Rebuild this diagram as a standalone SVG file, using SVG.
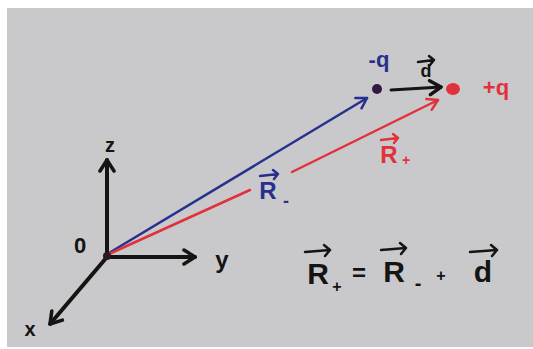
<svg xmlns="http://www.w3.org/2000/svg" width="533" height="349" viewBox="0 0 533 349">
<style>
.ax{stroke:#141414;stroke-width:4;fill:none;stroke-linecap:round}
.bl{stroke:#27308e;stroke-width:2.5;fill:none;stroke-linecap:round}
.rd{stroke:#e1323c;stroke-width:2.5;fill:none;stroke-linecap:round}
.dv{stroke:#141414;stroke-width:3;fill:none;stroke-linecap:round}
.t{font-family:"Liberation Sans",Arial,sans-serif;font-weight:bold}
.k{fill:#141414}
.b{fill:#27308e}
.r{fill:#e1323c}
.va{stroke-width:2.5;fill:none;stroke-linecap:round;stroke-linejoin:round}
</style>
<defs>
<marker id="mk" viewBox="-14 -9 16 18" refX="0" refY="0" markerWidth="16" markerHeight="18" markerUnits="userSpaceOnUse" orient="auto">
<path d="M-11,-7 L0,0 L-11,7" fill="none" stroke="#141414" stroke-width="3.5" stroke-linecap="round" stroke-linejoin="round"/>
</marker>
<marker id="mb" viewBox="-14 -9 16 18" refX="0" refY="0" markerWidth="16" markerHeight="18" markerUnits="userSpaceOnUse" orient="auto">
<path d="M-10,-6 L0,0 L-10,6" fill="none" stroke="#27308e" stroke-width="2.5" stroke-linecap="round" stroke-linejoin="round"/>
</marker>
<marker id="mr" viewBox="-14 -9 16 18" refX="0" refY="0" markerWidth="16" markerHeight="18" markerUnits="userSpaceOnUse" orient="auto">
<path d="M-10,-6 L0,0 L-10,6" fill="none" stroke="#e1323c" stroke-width="2.5" stroke-linecap="round" stroke-linejoin="round"/>
</marker>
</defs>
<rect x="0" y="0" width="533" height="349" fill="#ffffff"/>
<rect x="7" y="8" width="526" height="339" fill="#c9c9cb"/>

<g id="connectors">
<path class="ax" d="M107,257 L107,160" marker-end="url(#mk)"/>
<path class="ax" d="M107,257 L195,257" marker-end="url(#mk)"/>
<path class="ax" d="M107,257 L50,324" marker-end="url(#mk)"/>
<path class="bl" d="M109,253 L367,98" marker-end="url(#mb)"/>
<path class="rd" d="M109,254 L250,190"/>
<path class="rd" d="M292,172 L438,100" marker-end="url(#mr)"/>
<path class="dv" d="M391,90 L441,87" marker-end="url(#mk)"/>
</g>

<g id="origin">
<circle cx="107" cy="256" r="4" fill="#2a1a26"/>
<text class="t k" x="80" y="253" font-size="22" text-anchor="middle">0</text>
</g>
<g id="axis-z"><text class="t k" x="110" y="152" font-size="20" text-anchor="middle">z</text></g>
<g id="axis-y"><text class="t k" x="222" y="268" font-size="24" text-anchor="middle">y</text></g>
<g id="axis-x"><text class="t k" x="30" y="336" font-size="20" text-anchor="middle">x</text></g>

<g id="charge-minus">
<circle cx="377" cy="89" r="5" fill="#35183f"/>
<text class="t b" x="379" y="67" font-size="22" text-anchor="middle">-q</text>
</g>
<g id="charge-plus">
<ellipse cx="453" cy="89" rx="7" ry="6" fill="#e1323c"/>
<text class="t r" x="496" y="95" font-size="22" text-anchor="middle">+q</text>
</g>

<g id="label-d">
<text class="t k" x="426" y="77" font-size="18" text-anchor="middle">d</text>
<path class="va" stroke="#141414" d="M418,62 L434,60 M429,56 L434,60 L430,65"/>
</g>
<g id="label-Rminus">
<text class="t b" x="268" y="199" font-size="24" text-anchor="middle">R</text>
<text class="t b" x="286" y="207" font-size="18" text-anchor="middle">-</text>
<path class="va" stroke="#27308e" d="M260,176 L278,174 M273,170 L278,174 L274,179"/>
</g>
<g id="label-Rplus">
<text class="t r" x="389" y="163" font-size="24" text-anchor="middle">R</text>
<text class="t r" x="406" y="165" font-size="14" text-anchor="middle">+</text>
<path class="va" stroke="#e1323c" d="M381,140 L398,138 M393,134 L398,138 L394,143"/>
</g>

<g id="equation">
<text class="t k" x="318" y="284" font-size="30" text-anchor="middle">R</text>
<text class="t k" x="337" y="292" font-size="16" text-anchor="middle">+</text>
<text class="t k" x="359" y="281" font-size="24" text-anchor="middle">=</text>
<text class="t k" x="394" y="282" font-size="30" text-anchor="middle">R</text>
<text class="t k" x="418" y="290" font-size="20" text-anchor="middle">-</text>
<text class="t k" x="441" y="281" font-size="16" text-anchor="middle">+</text>
<text class="t k" x="483" y="282" font-size="30" text-anchor="middle">d</text>
<path class="va" stroke="#141414" stroke-width="3.5" d="M305,252 L330,250 M324,245 L330,250 L325,256"/>
<path class="va" stroke="#141414" stroke-width="3.5" d="M381,250 L406,248 M400,243 L406,248 L401,254"/>
<path class="va" stroke="#141414" stroke-width="3.5" d="M470,252 L497,250 M491,245 L497,250 L492,256"/>
</g>
</svg>
